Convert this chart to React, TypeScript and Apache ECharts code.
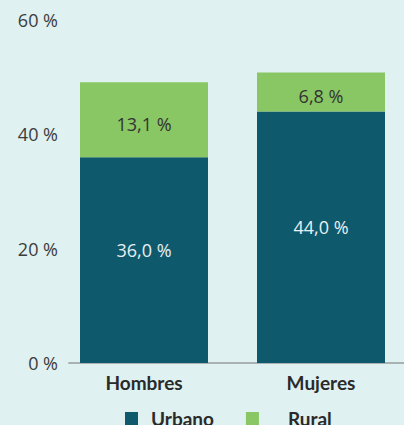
import React, { useEffect, useRef } from "react";
import * as echarts from "echarts";

const categories = ["Hombres", "Mujeres"];
const urbano = [36.0, 44.0];
const rural = [13.1, 6.8];
const yTicks = [0, 20, 40, 60];

const fmt = (v: number) => v.toFixed(1).replace(".", ",") + " %";

export default function App() {
  const ref = useRef<HTMLDivElement>(null);
  useEffect(() => {
    if (!ref.current) return;
    const chart = echarts.init(ref.current, null, { renderer: "svg" });
    const base = "'Open Sans', sans-serif";
    chart.setOption({
      animation: false,
      backgroundColor: "#dff1f1",
      grid: [
        { left: 55.5, width: 354, top: 20, bottom: 62, outerBoundsMode: "none" },
        { left: 69, right: 0, top: 20, bottom: 62, outerBoundsMode: "none" },
      ],
      xAxis: [
        {
          type: "category",
          gridIndex: 0,
          data: categories,
          axisLine: { show: false },
          axisTick: { show: false },
          axisLabel: {
            margin: 10,
            color: "#2a2a2a",
            fontFamily: "Lato, sans-serif",
            fontWeight: "bold",
            fontSize: 19,
          },
        },
        {
          type: "value",
          gridIndex: 1,
          min: 0,
          max: 1,
          axisLine: { show: true, lineStyle: { color: "#a9b1b3", width: 2 } },
          axisTick: { show: false },
          axisLabel: { show: false },
          splitLine: { show: false },
        },
      ],
      yAxis: [
        {
          type: "value",
          gridIndex: 0,
          min: 0,
          max: 60,
          interval: 20,
          show: false,
          splitLine: { show: false },
        },
        {
          type: "value",
          gridIndex: 1,
          min: yTicks[0],
          max: yTicks[yTicks.length - 1],
          interval: 20,
          axisLine: { show: false },
          axisTick: { show: false },
          splitLine: { show: false },
          axisLabel: {
            margin: 11,
            color: "#3c3c3c",
            fontFamily: base,
            fontSize: 18,
            formatter: (v: number) => v + " %",
          },
        },
      ],
      legend: {
        left: 125,
        top: 409,
        padding: 0,
        itemWidth: 13,
        itemHeight: 13,
        itemGap: 32,
        icon: "rect",
        textStyle: {
          fontFamily: "Lato, sans-serif",
          fontWeight: "bold",
          fontSize: 19,
          lineHeight: 16,
          color: "#2a2a2a",
        },
        data: [
          { name: "Urbano", textStyle: { padding: [0, 0, 0, 8] } },
          { name: "Rural", textStyle: { padding: [0, 0, 0, 24] } },
        ],
      },
      series: [
        {
          name: "Urbano",
          type: "bar",
          stack: "total",
          barWidth: 128,
          data: urbano,
          itemStyle: { color: "#0f596d" },
          label: {
            show: true,
            position: "inside",
            offset: [0, -10],
            color: "#e6f0f2",
            fontFamily: base,
            fontSize: 18,
            formatter: (p: any) => fmt(p.value),
          },
        },
        {
          name: "Rural",
          type: "bar",
          stack: "total",
          barWidth: 128,
          data: rural,
          itemStyle: { color: "#88c763" },
          label: {
            show: true,
            position: "inside",
            offset: [0, 4],
            color: "#333333",
            fontFamily: base,
            fontSize: 18,
            formatter: (p: any) => fmt(p.value),
          },
        },
      ],
    });
    return () => chart.dispose();
  }, []);
  return (
    <div
      ref={ref}
      style={{ position: "fixed", left: 0, top: 0, width: 404, height: 425 }}
    />
  );
}
